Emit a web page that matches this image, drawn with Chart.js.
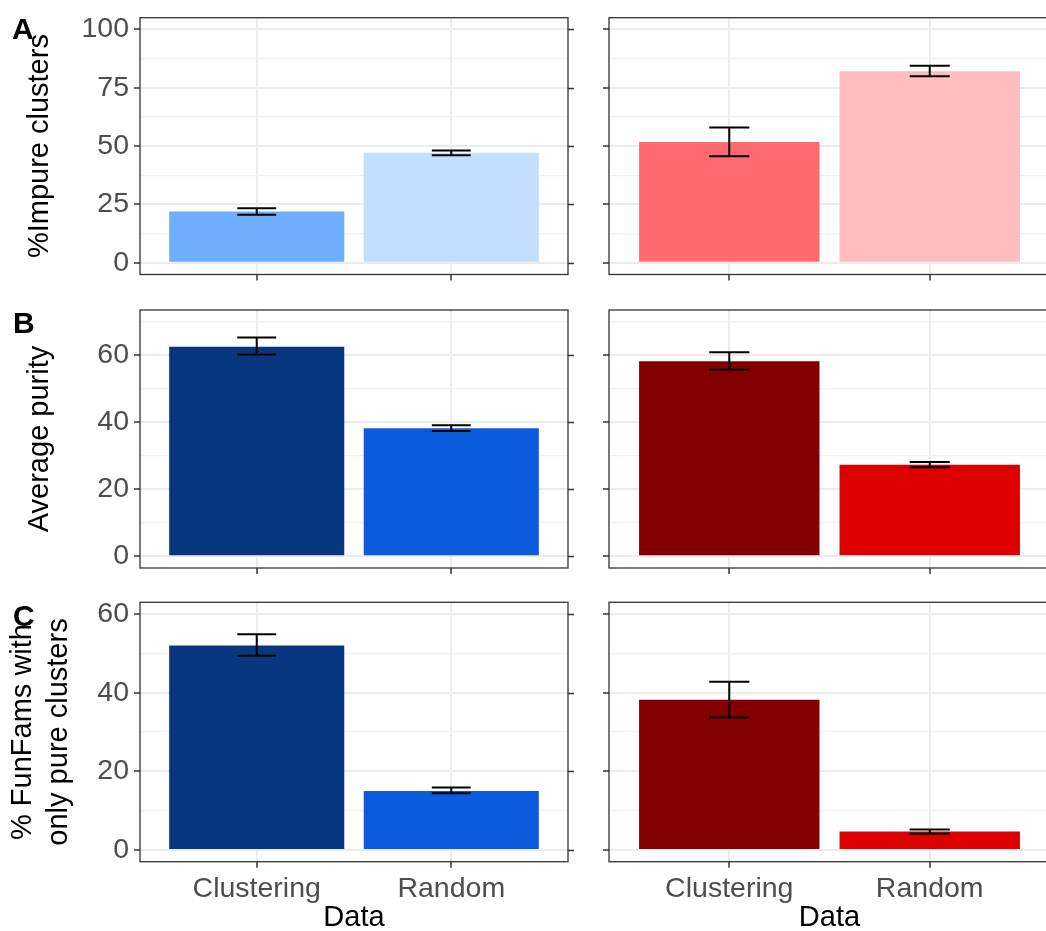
<!DOCTYPE html>
<html>
<head>
<meta charset="utf-8">
<script src="https://cdn.jsdelivr.net/npm/chart.js@4.4.1/dist/chart.umd.min.js"></script>
<style>
    html, body { margin: 0; padding: 0; background: #fff; overflow: hidden; width: 1046px; height: 931px; }
    canvas { position: absolute; }
    .letra { position: absolute; font: bold 30px "Liberation Sans", Arial, sans-serif; line-height: 30px; color: #000; }
</style>
</head>
<body>
<canvas id="painelA1" width="590" height="292" style="left:0;top:0"></canvas>
<canvas id="painelA2" width="470" height="292" style="left:590px;top:0"></canvas>
<canvas id="painelB1" width="590" height="293" style="left:0;top:292px"></canvas>
<canvas id="painelB2" width="470" height="293" style="left:590px;top:292px"></canvas>
<canvas id="painelC1" width="590" height="346" style="left:0;top:585px"></canvas>
<canvas id="painelC2" width="470" height="346" style="left:590px;top:585px"></canvas>
<div class="letra" style="left:12px;top:14px">A</div>
<div class="letra" style="left:13px;top:308px">B</div>
<div class="letra" style="left:13px;top:601px">C</div>
<script>
/* ==========================================================================
   Clustering vs Random - painéis A, B, C (azul / vermelho)
   ========================================================================== */

const categorias = ["Clustering", "Random"];
const posicoesX = [1, 2];

// A - % impure clusters
const impuroAzul = [22.0, 47.1];
const impuroAzulMin = [20.6, 46.1];
const impuroAzulMax = [23.4, 48.1];
const impuroVermelho = [51.8, 82.1];
const impuroVermelhoMin = [45.7, 79.9];
const impuroVermelhoMax = [58.0, 84.4];

// B - average purity
const purezaAzul = [62.5, 38.2];
const purezaAzulMin = [60.2, 37.4];
const purezaAzulMax = [65.3, 39.1];
const purezaVermelho = [58.2, 27.3];
const purezaVermelhoMin = [55.7, 26.6];
const purezaVermelhoMax = [60.9, 28.1];

// C - % FunFams with only pure clusters
const purosAzul = [52.0, 15.0];
const purosAzulMin = [49.4, 14.4];
const purosAzulMax = [54.9, 15.9];
const purosVermelho = [38.2, 4.7];
const purosVermelhoMin = [33.7, 4.1];
const purosVermelhoMax = [42.8, 5.2];

// ticks (maiores com rótulo, menores só grade)
const ticksImpuro = [0, 25, 50, 75, 100];
const ticksImpuroMenor = [12.5, 37.5, 62.5, 87.5];
const ticksPureza = [0, 20, 40, 60];
const ticksPurezaMenor = [10, 30, 50, 70];
const ticksPuros = [0, 20, 40, 60];
const ticksPurosMenor = [10, 30, 50];

const FONTE = '"Liberation Sans", Arial, Helvetica, sans-serif';

const pluginBarrasErro = {
    id: "barrasErro",
    afterDatasetsDraw(chart, args, opts) {
        const sx = chart.scales.x;
        const sy = chart.scales.y;
        const c = chart.ctx;

        c.save();
        c.strokeStyle = "#000";
        c.lineWidth = 2;

        posicoesX.forEach((x, i) => {
            const px = sx.getPixelForValue(x);
            const meia = (sx.getPixelForValue(x + 0.1) - sx.getPixelForValue(x - 0.1)) / 2;
            const y1 = sy.getPixelForValue(opts.min[i]);
            const y2 = sy.getPixelForValue(opts.max[i]);

            c.beginPath();
            c.moveTo(px, y1); c.lineTo(px, y2);
            c.moveTo(px - meia, y1); c.lineTo(px + meia, y1);
            c.moveTo(px - meia, y2); c.lineTo(px + meia, y2);
            c.stroke();
        });

        c.restore();
    }
};

// moldura do painel + marcas do eixo direito (ggplot duplica os ticks)
const pluginMoldura = {
    id: "moldura",
    afterDraw(chart, args, opts) {
        const a = chart.chartArea;
        const sy = chart.scales.y;
        const c = chart.ctx;

        c.save();
        c.strokeStyle = "#333";
        c.lineWidth = 1.5;
        c.beginPath();
        (opts.maiores || []).forEach(v => {
            const py = Math.round(sy.getPixelForValue(v)) + 0.5;
            c.moveTo(a.right, py);
            c.lineTo(a.right + 6, py);
        });
        c.stroke();

        c.lineWidth = 1.3;
        c.strokeRect(a.left, a.top, a.right - a.left, a.bottom - a.top);
        c.restore();
    }
};

function semPadding(s) {
    s.paddingTop = 0;
    s.paddingBottom = 0;
    s.paddingLeft = 0;
    s.paddingRight = 0;
}

function escalaY(p) {
    const todos = p.maiores.concat(p.menores).sort((a, b) => a - b);
    const ehMaior = v => p.maiores.includes(v);

    return {
        type: "linear",
        position: "left",
        min: p.yMin,
        max: p.yMax,
        afterBuildTicks: s => { s.ticks = todos.map(v => ({ value: v })); },
        afterFit: s => { s.width = p.larguraEsq; semPadding(s); },
        ticks: {
            autoSkip: false,
            padding: 5,
            color: "#4D4D4D",
            font: { family: FONTE, size: 28.5 },
            callback: v => (p.rotulosY && ehMaior(v)) ? String(v) : ""
        },
        grid: {
            color: ctx => ehMaior(ctx.tick.value) ? "#EBEBEB" : "#F2F2F2",
            lineWidth: ctx => ehMaior(ctx.tick.value) ? 2 : 1.2,
            tickColor: ctx => ehMaior(ctx.tick.value) ? "#333" : "rgba(0,0,0,0)",
            tickWidth: 1.5,
            tickLength: 6
        },
        border: { display: false },
        title: {
            display: !!p.tituloY,
            text: p.tituloY || "",
            color: "#000",
            font: { family: FONTE, size: 29, lineHeight: p.alturaLinhaTitulo || 1.2 },
            padding: { top: p.padTitulo || 0, bottom: 0 }
        }
    };
}

function criarPainel(canvasId, p) {
    const canvas = document.getElementById(canvasId);
    if (!canvas) return;

    return new Chart(canvas, {
        type: "bar",
        data: {
            datasets: [{
                data: posicoesX.map((x, i) => ({ x: x, y: p.valores[i] })),
                backgroundColor: p.cores,
                borderWidth: 0,
                grouped: false,
                categoryPercentage: 1,
                barPercentage: 0.9
            }]
        },
        options: {
            responsive: false,
            animation: false,
            layout: { padding: { top: p.topo, left: 0, right: p.larguraDir, bottom: 0 } },
            plugins: {
                legend: { display: false },
                tooltip: { enabled: false },
                barrasErro: { min: p.errMin, max: p.errMax },
                moldura: { maiores: p.maiores }
            },
            scales: {
                x: {
                    type: "linear",
                    position: "bottom",
                    offset: false,
                    min: 0.4,
                    max: 2.6,
                    afterBuildTicks: s => { s.ticks = posicoesX.map(v => ({ value: v })); },
                    afterFit: s => { s.height = p.alturaX; semPadding(s); },
                    ticks: {
                        autoSkip: false,
                        maxRotation: 0,
                        padding: 4,
                        color: "#4D4D4D",
                        font: { family: FONTE, size: 28.5 },
                        callback: v => p.rotulosX ? (categorias[v - 1] || "") : ""
                    },
                    grid: { offset: false, color: "#EBEBEB", lineWidth: 2, tickColor: "#333", tickWidth: 1.5, tickLength: 6 },
                    border: { display: false },
                    title: {
                        display: p.rotulosX,
                        text: "Data",
                        color: "#000",
                        font: { family: FONTE, size: 29, lineHeight: 0.9 },
                        padding: { top: 0, bottom: 0 }
                    }
                },
                y: escalaY(p)
            }
        },
        plugins: [pluginBarrasErro, pluginMoldura]
    });
}

const colunaEsq = { larguraEsq: 140, larguraDir: 22, rotulosY: true };
const colunaDir = { larguraEsq: 19, larguraDir: 10, rotulosY: false };

const linhaA = { topo: 17.7, alturaX: 17.5, yMin: -5, yMax: 105, maiores: ticksImpuro, menores: ticksImpuroMenor, rotulosX: false };
const linhaB = { topo: 18, alturaX: 17, yMin: -3.5, yMax: 73.5, maiores: ticksPureza, menores: ticksPurezaMenor, rotulosX: false };
const linhaC = { topo: 17.3, alturaX: 69.3, yMin: -3, yMax: 63, maiores: ticksPuros, menores: ticksPurosMenor, rotulosX: true };

criarPainel("painelA1", Object.assign({}, colunaEsq, linhaA, {
    valores: impuroAzul, errMin: impuroAzulMin, errMax: impuroAzulMax,
    cores: ["#6DAFFE", "#C2DFFF"],
    tituloY: "%Impure clusters", padTitulo: 23
}));
criarPainel("painelA2", Object.assign({}, colunaDir, linhaA, {
    valores: impuroVermelho, errMin: impuroVermelhoMin, errMax: impuroVermelhoMax,
    cores: ["#FF6A70", "#FFBDBF"]
}));
criarPainel("painelB1", Object.assign({}, colunaEsq, linhaB, {
    valores: purezaAzul, errMin: purezaAzulMin, errMax: purezaAzulMax,
    cores: ["#083780", "#0B5BDF"],
    tituloY: "Average purity", padTitulo: 23
}));
criarPainel("painelB2", Object.assign({}, colunaDir, linhaB, {
    valores: purezaVermelho, errMin: purezaVermelhoMin, errMax: purezaVermelhoMax,
    cores: ["#820000", "#DD0000"]
}));
criarPainel("painelC1", Object.assign({}, colunaEsq, linhaC, {
    valores: purosAzul, errMin: purosAzulMin, errMax: purosAzulMax,
    cores: ["#083780", "#0B5BDF"],
    tituloY: ["% FunFams with", "only pure clusters"], padTitulo: 5, alturaLinhaTitulo: 1.25
}));
criarPainel("painelC2", Object.assign({}, colunaDir, linhaC, {
    valores: purosVermelho, errMin: purosVermelhoMin, errMax: purosVermelhoMax,
    cores: ["#820000", "#DD0000"]
}));
</script>
</body>
</html>
